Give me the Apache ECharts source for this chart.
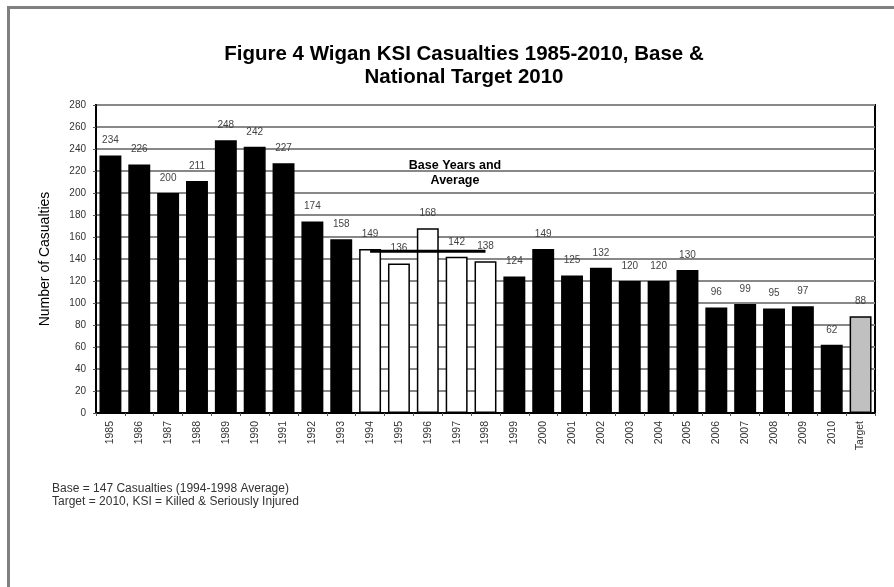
<!DOCTYPE html>
<html>
<head>
<meta charset="utf-8">
<script src="https://cdn.jsdelivr.net/npm/echarts@6/dist/echarts.min.js"></script>
<style>
    html, body { margin: 0; padding: 0; background: #fff; }
    #chart { width: 894px; height: 587px; }
</style>
</head>
<body>
<div id="chart"></div>
<script>
    const years = ['1985', '1986', '1987', '1988', '1989', '1990', '1991', '1992', '1993', '1994', '1995', '1996', '1997', '1998',
        '1999', '2000', '2001', '2002', '2003', '2004', '2005', '2006', '2007', '2008', '2009', '2010', 'Target'];
    const casualties = [234, 226, 200, 211, 248, 242, 227, 174, 158, 149, 136, 168, 142, 138,
        124, 149, 125, 132, 120, 120, 130, 96, 99, 95, 97, 62, 88];
    const baseYears = ['1994', '1995', '1996', '1997', '1998'];
    const baseAverage = 147;
    const yTicks = [0, 20, 40, 60, 80, 100, 120, 140, 160, 180, 200, 220, 240, 260, 280];

    const barData = casualties.map(function (v, i) {
        let fill = '#000000';
        if (baseYears.indexOf(years[i]) >= 0) fill = '#ffffff';
        if (years[i] === 'Target') fill = '#c0c0c0';
        return {value: v, itemStyle: {color: fill}};
    });
    const baseLine = years.map(function (y) {
        return baseYears.indexOf(y) >= 0 ? baseAverage : null;
    });

    const chart = echarts.init(document.getElementById('chart'));
    chart.setOption({
        animation: false,
        textStyle: {fontFamily: 'Liberation Sans, Arial, sans-serif'},
        title: {
            text: 'Figure 4 Wigan KSI Casualties 1985-2010, Base &\nNational Target 2010',
            left: 459,
            top: 38,
            textAlign: 'center',
            textStyle: {fontSize: 20.5, fontWeight: 'bold', color: '#000', lineHeight: 23}
        },
        graphic: [
            {
                type: 'rect', left: 6, top: 5, z: -10,
                shape: {x: 0, y: 0, width: 900, height: 600},
                style: {fill: 'none', stroke: '#808080', lineWidth: 3}
            },
            {
                type: 'text', left: 52, top: 482,
                style: {
                    text: 'Base = 147 Casualties (1994-1998 Average)\nTarget = 2010, KSI = Killed & Seriously Injured',
                    font: '12px Liberation Sans', fill: '#333', lineHeight: 13
                }
            },
            {
                type: 'text', x: 455, y: 158,
                style: {
                    text: 'Base Years and\nAverage', align: 'center',
                    font: 'bold 12.5px Liberation Sans', fill: '#000', lineHeight: 15
                }
            }
        ],
        grid: {
            left: 96, top: 105, right: 19, bottom: 174,
            show: true, borderColor: '#000', borderWidth: 2
        },
        xAxis: {
            type: 'category',
            data: years,
            axisLine: {lineStyle: {color: '#000', width: 2}},
            axisTick: {show: true, length: 3, lineStyle: {color: '#555'}},
            axisLabel: {rotate: 90, fontSize: 10.5, color: '#333', margin: 8, interval: 0}
        },
        yAxis: {
            type: 'value',
            min: yTicks[0],
            max: yTicks[yTicks.length - 1],
            interval: 20,
            name: 'Number of Casualties',
            nameLocation: 'middle',
            nameGap: 44,
            nameTextStyle: {fontSize: 14, color: '#000'},
            axisLine: {show: true, lineStyle: {color: '#000', width: 2}},
            axisTick: {show: true, length: 3, lineStyle: {color: '#555'}},
            axisLabel: {fontSize: 10, color: '#333', margin: 10},
            splitLine: {lineStyle: {color: '#888', width: 2}}
        },
        series: [
            {
                name: 'Casualties',
                type: 'bar',
                data: barData,
                barCategoryGap: '24%',
                itemStyle: {borderColor: '#000', borderWidth: 1.5},
                label: {show: true, position: 'top', distance: 10, fontSize: 10, color: '#444'}
            },
            {
                name: 'Base',
                type: 'line',
                data: baseLine,
                symbol: 'none',
                z: 5,
                lineStyle: {color: '#000', width: 3}
            }
        ]
    });
</script>
</body>
</html>
